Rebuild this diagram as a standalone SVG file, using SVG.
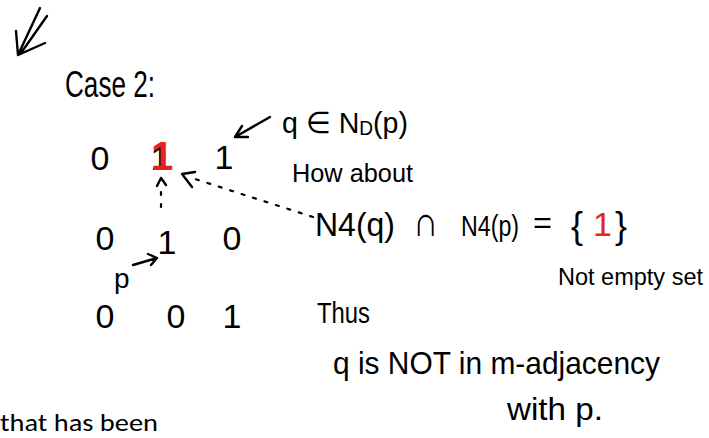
<svg xmlns="http://www.w3.org/2000/svg" width="709" height="438" viewBox="0 0 709 438">
<style>
.h{font-family:"Liberation Sans","DejaVu Sans",sans-serif;fill:#000}
.m{font-size:34px;text-anchor:middle}
.r{fill:#e32420}
.s{fill:none;stroke:#000;stroke-width:2.4;stroke-linecap:round;stroke-linejoin:round}
.d{fill:none;stroke:#000;stroke-width:2.2;stroke-linecap:round;stroke-dasharray:3 9}
</style>
<rect width="709" height="438" fill="#fff"/>
<g id="corner-arrow">
<path class="s" d="M40 8 L18 55 M47 16 L21 53 M18 55 L16 31 M18 55 L45 43"/>
</g>
<g id="title"><text class="h" x="65" y="97" font-size="36" textLength="90" lengthAdjust="spacingAndGlyphs">Case 2:</text></g>
<g id="matrix">
<text class="h m" x="100" y="170">0</text>
<g id="q">
<text class="h m" x="160" y="170" font-size="30">1</text>
<text class="h r" x="162" y="170" font-size="40" font-weight="bold" text-anchor="middle">1</text>
</g>
<text class="h m" x="224" y="169">1</text>
<text class="h m" x="105" y="250">0</text>
<g id="p"><text class="h m" x="167" y="254">1</text></g>
<text class="h m" x="232" y="250">0</text>
<text class="h m" x="105" y="328" font-size="38">0</text>
<text class="h m" x="176" y="328" font-size="38">0</text>
<text class="h m" x="232" y="328" font-size="38">1</text>
</g>
<g id="label-p"><text class="h" x="114" y="288" font-size="28">p</text></g>
<g id="label-q-nd"><text class="h" x="282" y="133" font-size="30" textLength="126" lengthAdjust="spacingAndGlyphs">q ∈ N<tspan font-size="20" dy="2">D</tspan><tspan dy="-2">(p)</tspan></text></g>
<g id="label-how"><text class="h" x="292" y="182" font-size="26" textLength="121" lengthAdjust="spacingAndGlyphs">How about</text></g>
<g id="label-eq">
<text class="h" x="315" y="236" font-size="34" textLength="80" lengthAdjust="spacingAndGlyphs">N4(q)</text>
<text class="h" x="413" y="236" font-size="42" textLength="25" lengthAdjust="spacingAndGlyphs">∩</text>
<text class="h" x="461" y="236" font-size="30" textLength="58" lengthAdjust="spacingAndGlyphs">N4(p)</text>
<text class="h" x="533" y="233" font-size="30" textLength="19" lengthAdjust="spacingAndGlyphs">=</text>
<text class="h" x="571" y="238" font-size="36">{</text>
<text class="h r" x="593" y="236" font-size="34">1</text>
<text class="h" x="615" y="238" font-size="36">}</text>
</g>
<g id="label-notempty"><text class="h" x="558" y="285" font-size="24" textLength="145" lengthAdjust="spacingAndGlyphs">Not empty set</text></g>
<g id="label-thus"><text class="h" x="317" y="323" font-size="30" textLength="53" lengthAdjust="spacingAndGlyphs">Thus</text></g>
<g id="label-conclusion">
<text class="h" x="333" y="374" font-size="32" textLength="327" lengthAdjust="spacingAndGlyphs">q is NOT in m-adjacency</text>
<text class="h" x="507" y="420" font-size="32" textLength="96" lengthAdjust="spacingAndGlyphs">with p.</text>
</g>
<g id="printed"><text x="0" y="431" font-family="Carlito,'Liberation Sans',sans-serif" font-size="24" fill="#000" textLength="158" lengthAdjust="spacingAndGlyphs">that has been</text></g>
<g id="connectors">
<path class="s" d="M270 117 L235 137 M235 137 L242 126 M235 137 L248 137"/>
<path class="s" d="M133 265 L157 258 M157 258 L148 254 M157 258 L151 265"/>
<path class="d" d="M161 207 L161 186"/>
<path class="s" d="M161 178 L157 186 M161 178 L166 185"/>
<path class="d" d="M313 217 L195 179"/>
<path class="s" d="M182 174 L195 172 M182 174 L192 187"/>
</g>
</svg>
